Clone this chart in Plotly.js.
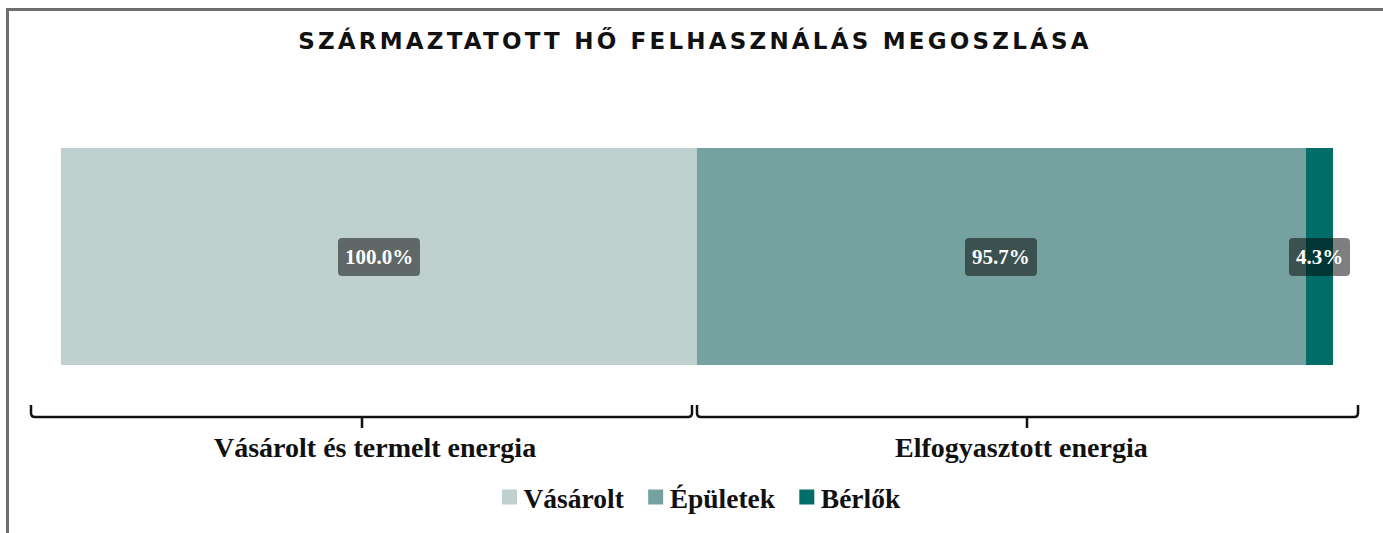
<!DOCTYPE html>
<html>
<head>
<meta charset="utf-8">
<script src="https://cdn.plot.ly/plotly-3.0.1.min.js"></script>
<style>
  html, body { margin: 0; padding: 0; background: #ffffff; }
  #chart { width: 1383px; height: 533px; }
</style>
</head>
<body>
<div id="chart"></div>
<script>
// ---- data ----
const chartTitle = "SZÁRMAZTATOTT HŐ FELHASZNÁLÁS MEGOSZLÁSA";
const categories = ["Vásárolt és termelt energia", "Elfogyasztott energia"];
const seriesNames = ["Vásárolt", "Épületek", "Bérlők"];
const seriesValues = [100.0, 95.7, 4.3];   // percent
const seriesColors = ["#BFD1CF", "#75A2A0", "#006D68"];

// ---- layout helpers (pixel -> paper) ----
const W = 1383, H = 533;
const mL = 31, mR = 24, mT = 148, mB = 168;
const pw = W - mL - mR, ph = H - mT - mB;
const fx = px => (px - mL) / pw;
const fy = py => (H - mB - py) / ph;

const labelFont = "Liberation Serif, Times New Roman, serif";

const traces = seriesNames.map((name, i) => ({
  type: "bar",
  orientation: "h",
  name: name,
  y: ["bar"],
  x: [seriesValues[i]],
  marker: { color: seriesColors[i], line: { width: 0 } },
  hoverinfo: "skip"
}));

// data labels centred in each stacked segment
let cum = 0;
const dataLabels = seriesValues.map(v => {
  const c = cum + v / 2;
  cum += v;
  return {
    x: c, y: "bar", xref: "x", yref: "y",
    text: v.toFixed(1) + "%",
    showarrow: false,
    font: { family: labelFont, size: 21, color: "#ffffff", weight: "bold" },
    bgcolor: "rgba(0,0,0,0.5)",
    borderpad: 7,
    borderwidth: 0
  };
});
const total = cum;

// category labels under the braces
const catX = [fx(375), fx(1022)];
const catLabels = categories.map((c, i) => ({
  x: catX[i], y: fy(447), xref: "paper", yref: "paper",
  text: c, showarrow: false,
  xanchor: "center", yanchor: "middle",
  font: { family: labelFont, size: 28, color: "#111111", weight: "bold" }
}));

function brace(x0, x1, xm) {
  const yl = 417, yh = 405, r = 4;
  return "M" + fx(x0) + "," + fy(yh) +
         " L" + fx(x0) + "," + fy(yl - r) +
         " Q" + fx(x0) + "," + fy(yl) + " " + fx(x0 + r) + "," + fy(yl) +
         " L" + fx(x1 - r) + "," + fy(yl) +
         " Q" + fx(x1) + "," + fy(yl) + " " + fx(x1) + "," + fy(yl - r) +
         " L" + fx(x1) + "," + fy(yh) +
         " M" + fx(xm) + "," + fy(yl) + " L" + fx(xm) + "," + fy(428);
}

const shapes = [
  { type: "path", xref: "paper", yref: "paper", path: brace(31, 692, 362),
    line: { color: "#111111", width: 2.5 } },
  { type: "path", xref: "paper", yref: "paper", path: brace(697, 1358, 1027),
    line: { color: "#111111", width: 2.5 } },
  // frame (top + left)
  { type: "line", xref: "paper", yref: "paper", x0: fx(6), x1: fx(1390), y0: fy(9.5), y1: fy(9.5),
    line: { color: "#6E6E6E", width: 3 } },
  { type: "line", xref: "paper", yref: "paper", x0: fx(7.5), x1: fx(7.5), y0: fy(8), y1: fy(540),
    line: { color: "#6E6E6E", width: 3 } }
];

const sPx = (1333 - 61) / total;   // px per percent-unit
const layout = {
  width: W, height: H,
  margin: { l: mL, r: mR, t: mT, b: mB, pad: 0 },
  paper_bgcolor: "#ffffff",
  plot_bgcolor: "rgba(0,0,0,0)",
  barmode: "stack",
  bargap: 0,
  showlegend: true,
  title: {
    text: chartTitle,
    font: { family: "DejaVu Sans, sans-serif", size: 23, color: "#111111", weight: "bold" },
    x: 0.5, xref: "paper", xanchor: "center",
    y: 1 - 41 / H, yref: "container", yanchor: "middle"
  },
  xaxis: { visible: false, range: [-(61 - mL) / sPx, total + (W - mR - 1333) / sPx], fixedrange: true },
  yaxis: { visible: false, range: [-0.5, 0.5], fixedrange: true },
  legend: {
    orientation: "h", x: 0.5, xanchor: "center", y: fy(497), yanchor: "middle",
    font: { family: labelFont, size: 27.5, color: "#111111", weight: "bold" },
    bgcolor: "rgba(0,0,0,0)", traceorder: "normal", itemclick: false
  },
  annotations: dataLabels.concat(catLabels),
  shapes: shapes
};

Plotly.newPlot("chart", traces, layout, { staticPlot: true, displayModeBar: false }).then(gd => {
  const t = gd.querySelector(".gtitle");
  if (t) t.style.letterSpacing = "3.2px";
  gd.querySelectorAll(".annotation rect.bg").forEach(r => { r.setAttribute("rx", 4); r.setAttribute("ry", 4); });
  gd.querySelectorAll(".legendpoints path").forEach(p => {
    const tr = p.getAttribute("transform") || "";
    p.setAttribute("transform", "translate(6,0) " + tr + " scale(1.25)");
  });
});
</script>
</body>
</html>
